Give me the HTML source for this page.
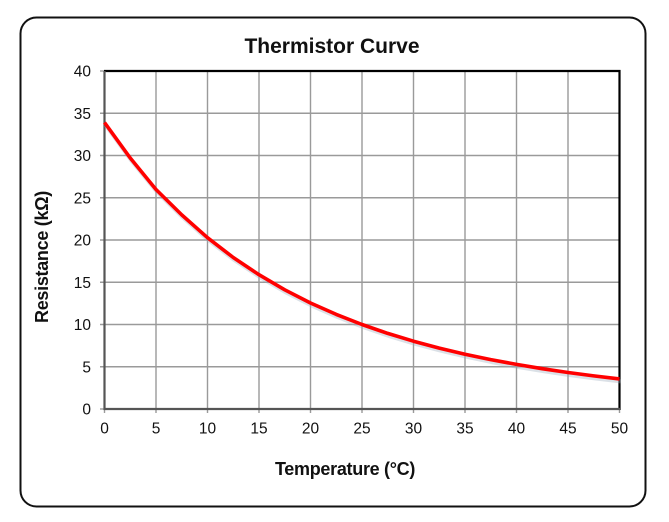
<!DOCTYPE html>
<html><head><meta charset="utf-8"><style>
html,body{margin:0;padding:0;background:#fff;}
svg{display:block;}
text{font-family:"Liberation Sans",Arial,sans-serif;fill:#111;}
</style></head><body>
<svg width="669" height="522" viewBox="0 0 669 522" xmlns="http://www.w3.org/2000/svg">
<rect x="0" y="0" width="669" height="522" fill="#fff"/>
<rect x="20.5" y="17.5" width="625" height="489" rx="16" ry="16" fill="#fff" stroke="#111" stroke-width="2"/>
<text x="332" y="53" font-size="21" font-weight="bold" text-anchor="middle">Thermistor Curve</text>
<g stroke="#9a9a9a" stroke-width="1.4">
<line x1="156" y1="71" x2="156" y2="413"/>
<line x1="207.5" y1="71" x2="207.5" y2="413"/>
<line x1="259" y1="71" x2="259" y2="413"/>
<line x1="310.5" y1="71" x2="310.5" y2="413"/>
<line x1="362" y1="71" x2="362" y2="413"/>
<line x1="413.5" y1="71" x2="413.5" y2="413"/>
<line x1="465" y1="71" x2="465" y2="413"/>
<line x1="516.5" y1="71" x2="516.5" y2="413"/>
<line x1="568" y1="71" x2="568" y2="413"/>
<line x1="100" y1="366.75" x2="619.5" y2="366.75"/>
<line x1="100" y1="324.5" x2="619.5" y2="324.5"/>
<line x1="100" y1="282.25" x2="619.5" y2="282.25"/>
<line x1="100" y1="240" x2="619.5" y2="240"/>
<line x1="100" y1="197.75" x2="619.5" y2="197.75"/>
<line x1="100" y1="155.5" x2="619.5" y2="155.5"/>
<line x1="100" y1="113.25" x2="619.5" y2="113.25"/>
<line x1="100" y1="71" x2="104" y2="71"/>
<line x1="100" y1="409" x2="104" y2="409"/>
<line x1="104.5" y1="409" x2="104.5" y2="413"/>
<line x1="619.5" y1="409" x2="619.5" y2="413"/>
</g>
<line x1="104" y1="71" x2="620.5" y2="71" stroke="#000" stroke-width="2.2"/>
<line x1="619.5" y1="70" x2="619.5" y2="410" stroke="#000" stroke-width="2.2"/>
<line x1="104.5" y1="71" x2="104.5" y2="410" stroke="#555" stroke-width="2.2"/>
<line x1="103.5" y1="409" x2="620" y2="409" stroke="#555" stroke-width="2.2"/>
<polyline fill="none" stroke="#9ab" stroke-opacity="0.35" stroke-width="4" stroke-linejoin="round" transform="translate(1,2.5)" points="104.5,122.5 130.25,158 156,189.5 181.75,214.9 207.5,237.7 233.25,257.5 259,274.7 284.75,289.8 310.5,303 336.25,314.4 362,324.5 387.75,333.4 413.5,341.2 439.25,348.1 465,354.2 490.75,359.6 516.5,364.4 542.25,368.7 568,372.5 593.75,375.9 619.5,378.9"/>
<polyline fill="none" stroke="#ff0000" stroke-width="3.6" stroke-linejoin="round" stroke-linecap="butt" points="104.5,122.5 130.25,158 156,189.5 181.75,214.9 207.5,237.7 233.25,257.5 259,274.7 284.75,289.8 310.5,303 336.25,314.4 362,324.5 387.75,333.4 413.5,341.2 439.25,348.1 465,354.2 490.75,359.6 516.5,364.4 542.25,368.7 568,372.5 593.75,375.9 619.5,378.9"/>
<g font-size="15.5" text-anchor="end">
<text x="91" y="76.5">40</text>
<text x="91" y="118.75">35</text>
<text x="91" y="161">30</text>
<text x="91" y="203.25">25</text>
<text x="91" y="245.5">20</text>
<text x="91" y="287.75">15</text>
<text x="91" y="330">10</text>
<text x="91" y="372.25">5</text>
<text x="91" y="414.5">0</text>
</g>
<g font-size="15.5" text-anchor="middle">
<text x="104.5" y="433.5">0</text>
<text x="156" y="433.5">5</text>
<text x="207.5" y="433.5">10</text>
<text x="259" y="433.5">15</text>
<text x="310.5" y="433.5">20</text>
<text x="362" y="433.5">25</text>
<text x="413.5" y="433.5">30</text>
<text x="465" y="433.5">35</text>
<text x="516.5" y="433.5">40</text>
<text x="568" y="433.5">45</text>
<text x="619.5" y="433.5">50</text>
</g>
<text x="345" y="475" font-size="18" font-weight="bold" text-anchor="middle" letter-spacing="-0.3">Temperature (°C)</text>
<text transform="translate(48,257) rotate(-90)" font-size="18" font-weight="bold" text-anchor="middle" letter-spacing="-0.3">Resistance (kΩ)</text>
</svg>
</body></html>
